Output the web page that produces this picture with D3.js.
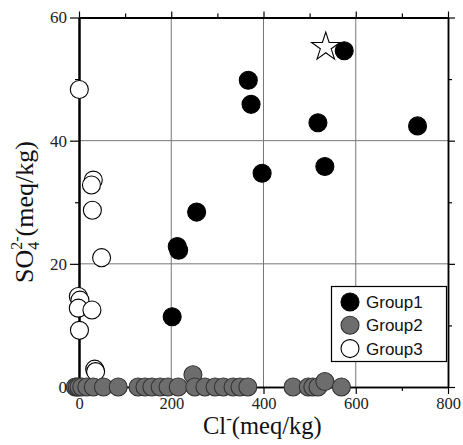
<!DOCTYPE html>
<html><head><meta charset="utf-8">
<script src="https://cdn.jsdelivr.net/npm/d3@7"></script>
<style>body{margin:0;background:#fff}</style>
</head><body>
<script>
// ---- data ----
const xTicks = [0, 200, 400, 600, 800];
const yTicks = [0, 20, 40, 60];
const xMinor = [100, 300, 500, 700];
const yMinor = [10, 30, 50];
const groupNames = ["Group1", "Group2", "Group3"];
const g1x = [202, 213, 216, 255, 367, 373, 397, 518, 533, 575, 734];
const g1y = [11.4, 22.8, 22.2, 28.4, 49.8, 45.9, 34.7, 42.9, 35.8, 54.6, 42.4];
const g2x = [-8, -4, 0, 6, 17, 31, 53, 85, 128, 143, 158, 176, 193, 215, 247, 251, 273, 295, 313, 334, 349, 366, 464, 497, 507, 518, 533, 569];
const g2y = [0, 0, 0, 0, 0, 0, 0, 0, 0, 0, 0, 0, 0, 0, 2.0, 0, 0, 0, 0, 0, 0, 0, 0, 0, 0, 0, 0.9, 0];
const g3x = [0.7, 31, 27, 29, 49, -1.5, 2, -1.5, 28, 1, 34, 36];
const g3y = [48.3, 33.6, 32.8, 28.7, 21.0, 14.7, 14.1, 12.8, 12.5, 9.2, 2.9, 2.5];
const starX = [535];
const starY = [55.2];

const W = 463, H = 445;
const L = 79, R = 448, T = 17.5, B = 387;
const svg = d3.select("body").append("svg").attr("width", W).attr("height", H);
const x = d3.scaleLinear().domain([0, 800]).range([L, R]);
const y = d3.scaleLinear().domain([0, 60]).range([B, T]);

// grid
const grid = svg.append("g").attr("stroke", "#777").attr("stroke-width", 1);
grid.selectAll(".gx").data([200, 400, 600]).join("line")
  .attr("x1", d => x(d)).attr("x2", d => x(d)).attr("y1", T).attr("y2", B);
grid.selectAll(".gy").data([20, 40]).join("line")
  .attr("y1", d => y(d)).attr("y2", d => y(d)).attr("x1", L).attr("x2", R);

const serif = "'Liberation Serif', 'Times New Roman', serif";
function styleAxis(g, w, fs) {
  g.select(".domain").attr("stroke", "#000").attr("stroke-width", w);
  g.selectAll(".tick line").attr("stroke", "#000").attr("stroke-width", 1.2);
  g.selectAll("text").attr("font-family", serif).attr("font-size", fs || 17).attr("fill", "#222");
}
// axes
const ax = svg.append("g").attr("transform", `translate(0,${B})`)
  .call(d3.axisBottom(x).tickValues(xTicks).tickSize(7).tickPadding(3).tickSizeOuter(0));
styleAxis(ax, 1.5, 16.5);
const axm = svg.append("g").attr("transform", `translate(0,${B})`)
  .call(d3.axisBottom(x).tickValues(xMinor).tickSize(4).tickFormat("").tickSizeOuter(0));
styleAxis(axm, 1.5);
const axt = svg.append("g").attr("transform", `translate(0,${T})`)
  .call(d3.axisTop(x).tickValues(xTicks).tickSize(6).tickFormat("").tickSizeOuter(0));
styleAxis(axt, 2);
const axtm = svg.append("g").attr("transform", `translate(0,${T})`)
  .call(d3.axisTop(x).tickValues(xMinor).tickSize(4).tickFormat("").tickSizeOuter(0));
styleAxis(axtm, 2);
const ayl = svg.append("g").attr("transform", `translate(${L},0)`)
  .call(d3.axisLeft(y).tickValues(yTicks).tickSize(9).tickPadding(3).tickSizeOuter(0));
styleAxis(ayl, 2);
const aylm = svg.append("g").attr("transform", `translate(${L},0)`)
  .call(d3.axisLeft(y).tickValues(yMinor).tickSize(4).tickFormat("").tickSizeOuter(0));
styleAxis(aylm, 2);
const ayr = svg.append("g").attr("transform", `translate(${R},0)`)
  .call(d3.axisRight(y).tickValues(yTicks).tickSize(7).tickFormat("").tickSizeOuter(0));
styleAxis(ayr, 1.5);
const ayrm = svg.append("g").attr("transform", `translate(${R},0)`)
  .call(d3.axisRight(y).tickValues(yMinor).tickSize(4).tickFormat("").tickSizeOuter(0));
styleAxis(ayrm, 1.5);

// points
const r = 9;
const fills = {Group1: "#000", Group2: "#6d6d6d", Group3: "#fff"};
function pts(xs, ys, name) {
  svg.append("g").selectAll("circle").data(xs.map((v, i) => [v, ys[i]])).join("circle")
    .attr("cx", d => x(d[0])).attr("cy", d => y(d[1])).attr("r", r)
    .attr("fill", fills[name]).attr("stroke", name === "Group2" ? "#333" : "#000")
    .attr("stroke-width", 1.1);
}
pts(g3x, g3y, "Group3");
pts(g2x, g2y, "Group2");
pts(g1x, g1y, "Group1");

svg.append("g").selectAll("path").data(starX.map((v, i) => [v, starY[i]])).join("path")
  .attr("d", d3.symbol(d3.symbolStar, 250))
  .attr("transform", d => `translate(${x(d[0])},${y(d[1])})`)
  .attr("fill", "#fff").attr("stroke", "#000").attr("stroke-width", 1.1);

// legend
const lg = svg.append("g");
lg.append("rect").attr("x", 331.5).attr("y", 286.5).attr("width", 115).attr("height", 75)
  .attr("fill", "#fff").attr("stroke", "#000").attr("stroke-width", 1.2);
groupNames.forEach((n, i) => {
  const cy = 302 + i * 23.3;
  lg.append("circle").attr("cx", 350).attr("cy", cy).attr("r", r)
    .attr("fill", fills[n]).attr("stroke", n === "Group2" ? "#333" : "#000").attr("stroke-width", 1.1);
  lg.append("text").attr("x", 366).attr("y", cy).attr("dy", "0.36em")
    .attr("font-family", "'Liberation Sans', Arial, sans-serif").attr("font-size", 17)
    .attr("fill", "#111").text(n);
});

// axis titles
const xt = svg.append("text").attr("x", 203).attr("y", 434)
  .attr("font-family", serif).attr("font-size", 24.5).attr("fill", "#111");
xt.append("tspan").text("Cl");
xt.append("tspan").attr("dy", -10).attr("font-size", 17).text("-");
xt.append("tspan").attr("dy", 10).text("(meq/kg)");

const yt = svg.append("text").attr("transform", "translate(33,283) rotate(-90)")
  .attr("font-family", serif).attr("font-size", 26).attr("fill", "#111");
yt.append("tspan").text("SO");
yt.append("tspan").attr("dy", 6).attr("font-size", 16).text("4");
yt.append("tspan").attr("dx", -8).attr("dy", -17).attr("font-size", 16).text("2-");
yt.append("tspan").attr("dy", 11).text("(meq/kg)");
</script>
</body></html>
